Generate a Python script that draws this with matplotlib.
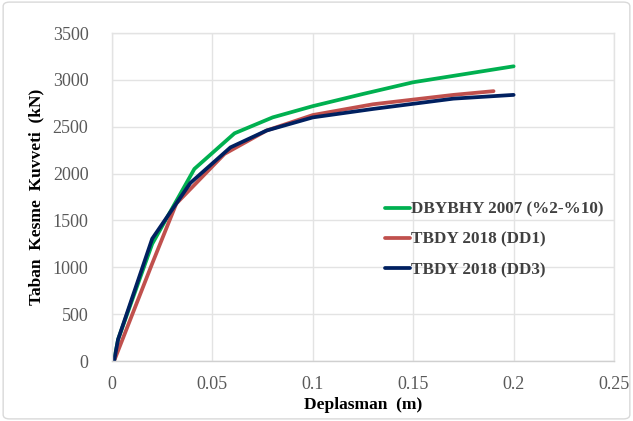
import matplotlib
matplotlib.use("Agg")
import matplotlib.pyplot as plt
from matplotlib.patches import FancyBboxPatch

# Данные
dbybhy_x = [0.001, 0.003, 0.020, 0.041, 0.061, 0.080, 0.100, 0.125, 0.150, 0.200]
dbybhy_y = [0, 230, 1250, 2050, 2430, 2600, 2720, 2850, 2975, 3145]

dd1_x = [0.001, 0.020, 0.032, 0.056, 0.077, 0.100, 0.130, 0.150, 0.170, 0.190]
dd1_y = [0, 1040, 1680, 2210, 2460, 2625, 2740, 2790, 2840, 2880]

dd3_x = [0.001, 0.003, 0.020, 0.039, 0.059, 0.077, 0.100, 0.130, 0.150, 0.170, 0.200]
dd3_y = [0, 230, 1305, 1900, 2280, 2460, 2600, 2690, 2745, 2800, 2840]

labels = ["DBYBHY 2007 (%2-%10)", "TBDY 2018 (DD1)", "TBDY 2018 (DD3)"]
colors = ["#00b050", "#c0504d", "#002060"]

x_ticks = [0, 0.05, 0.1, 0.15, 0.2, 0.25]
x_ticklabels = ["0", "0.05", "0.1", "0.15", "0.2", "0.25"]
y_ticks = [0, 500, 1000, 1500, 2000, 2500, 3000, 3500]

plt.rcParams['font.family'] = ['Liberation Serif', 'DejaVu Serif']

fig = plt.figure(figsize=(6.33, 4.21), dpi=100)
ax = fig.add_axes([0.177, 0.1425, 0.793, 0.779])

ax.plot(dbybhy_x, dbybhy_y, color=colors[0], lw=2.7, label=labels[0], solid_capstyle='round')
ax.plot(dd1_x, dd1_y, color=colors[1], lw=2.7, label=labels[1], solid_capstyle='round')
ax.plot(dd3_x, dd3_y, color=colors[2], lw=2.7, label=labels[2], solid_capstyle='round')

ax.set_xlim(0, 0.25)
ax.set_ylim(0, 3500)
ax.set_xticks(x_ticks)
ax.set_xticklabels(x_ticklabels)
ax.set_yticks(y_ticks)
ax.grid(True, color="#e3e3e3", lw=1.0)
ax.set_axisbelow(True)
for s in ax.spines.values():
    s.set_color("#e3e3e3")
    s.set_linewidth(1.0)
ax.spines['bottom'].set_color("#d0d0d0")
ax.tick_params(length=0, labelsize=13, labelcolor="#595959")
ax.tick_params(axis='y', pad=17)
ax.tick_params(axis='x', pad=11)

ax.set_xlabel("Deplasman  (m)", fontsize=12.5, fontweight='bold', labelpad=3)
ax.set_ylabel("Taban  Kesme  Kuvveti  (kN)", fontsize=12.5, fontweight='bold', labelpad=6)

leg = ax.legend(loc='upper left', bbox_to_anchor=(0.514, 0.533), frameon=False,
                handlelength=1.45, handletextpad=0.02, labelspacing=0.83,
                prop={'size': 12.3, 'weight': 'bold'})
for t in leg.get_texts():
    t.set_color("#404040")

# рамка всей диаграммы
fig.patches.append(FancyBboxPatch((0.005, 0.005), 0.99, 0.99, boxstyle="round,pad=0,rounding_size=0.01",
                                  transform=fig.transFigure, facecolor='none',
                                  edgecolor="#d9d9d9", lw=1.0))

fig.savefig("out.png", dpi=100)
